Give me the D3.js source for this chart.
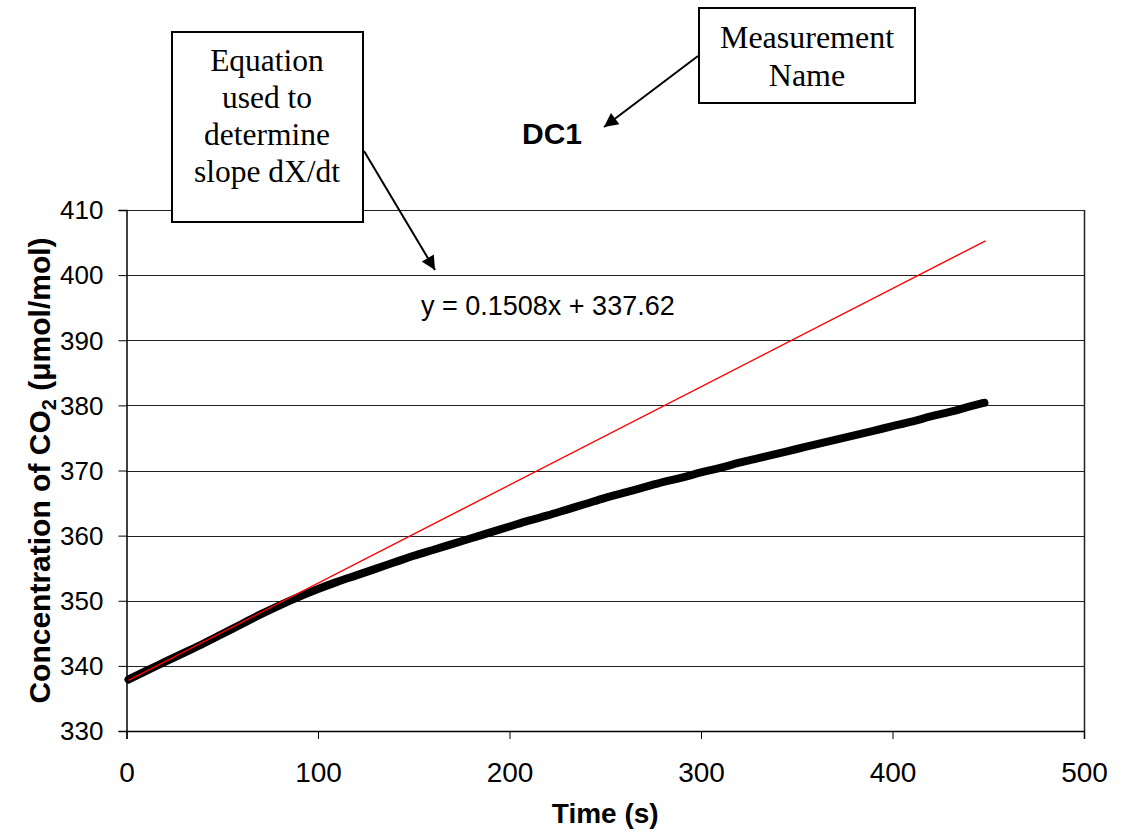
<!DOCTYPE html>
<html>
<head>
<meta charset="utf-8">
<script src="https://cdn.jsdelivr.net/npm/d3@7"></script>
<style>
  html, body { margin: 0; padding: 0; background: #fff; }
  svg { display: block; }
</style>
</head>
<body>
<svg id="chart" width="1124" height="839"></svg>
<script>
// ---- Data ----
const times = [1,10,20,30,40,50,60,70,80,90,100,110,120,130,140,150,160,170,180,190,200,210,220,230,240,250,260,270,280,290,300,310,320,330,340,350,360,370,380,390,400,410,420,430,440,448];
const co2 = [337.9,339.2,340.6,342.0,343.4,344.9,346.4,347.9,349.3,350.6,351.8,352.9,353.9,354.9,355.9,356.9,357.8,358.7,359.6,360.5,361.4,362.3,363.1,364.0,364.9,365.8,366.6,367.4,368.2,368.9,369.7,370.4,371.2,371.9,372.6,373.3,374.0,374.7,375.4,376.1,376.8,377.5,378.3,379.0,379.8,380.4];
const trendSlope = [0.1508];
const trendIntercept = [337.62];
const xTicks = [0,100,200,300,400,500];
const yTicks = [330,340,350,360,370,380,390,400,410];
const titleText = ["DC1"];
const xTitle = ["Time (s)"];
const eqText = ["y = 0.1508x + 337.62"];
const box1Lines = ["Equation","used to","determine","slope dX/dt"];
const box2Lines = ["Measurement","Name"];

// ---- Layout ----
const svg = d3.select("#chart");
const L = 126.5, R = 1084, T = 210, B = 731;
const x = d3.scaleLinear().domain([0,500]).range([L,R]);
const y = d3.scaleLinear().domain([330,410]).range([B,T]);
const SANS = "Liberation Sans, Arial, sans-serif";
const SERIF = "Liberation Serif, Times New Roman, serif";

// gridlines
svg.append("g").selectAll("line").data(yTicks.slice(1)).join("line")
  .attr("x1", L).attr("x2", R)
  .attr("y1", d => Math.round(y(d))+0.5).attr("y2", d => Math.round(y(d))+0.5)
  .attr("stroke", "#222").attr("stroke-width", 1);
// right border
svg.append("line").attr("x1", R+0.5).attr("x2", R+0.5).attr("y1", T).attr("y2", B)
  .attr("stroke", "#222").attr("stroke-width", 1.5);

// axes
const yAxis = svg.append("g").attr("transform", `translate(${L},0)`)
  .call(d3.axisLeft(y).tickValues(yTicks).tickSize(8).tickPadding(15).tickFormat(d3.format("d")));
const xAxis = svg.append("g").attr("transform", `translate(0,${B})`)
  .call(d3.axisBottom(x).tickValues(xTicks).tickSize(8).tickPadding(24).tickFormat(d3.format("d")));
[yAxis, xAxis].forEach(g => {
  g.select(".domain").attr("stroke", "#000").attr("stroke-width", 1.5);
  g.selectAll(".tick line").attr("stroke", "#000").attr("stroke-width", 1);
  g.selectAll("text").attr("font-family", SANS).attr("fill", "#000");
});
yAxis.selectAll("text").attr("font-size", 26).attr("dy", "0.34em");
xAxis.selectAll("text").attr("font-size", 28).attr("dy", "0.68em");

// data line (thick black)
const line = d3.line().x((d,i) => x(times[i])).y(d => y(d)).curve(d3.curveMonotoneX);
svg.append("path").datum(co2).attr("d", line)
  .attr("fill", "none").attr("stroke", "#000").attr("stroke-width", 8)
  .attr("stroke-linejoin", "round").attr("stroke-linecap", "round");

// trend line (red)
const tExt = d3.extent(times);
svg.append("line")
  .attr("x1", x(tExt[0])).attr("y1", y(trendSlope[0]*tExt[0] + trendIntercept[0]))
  .attr("x2", x(tExt[1]+0.6)).attr("y2", y(trendSlope[0]*(tExt[1]+0.6) + trendIntercept[0]))
  .attr("stroke", "#ff0000").attr("stroke-width", 1.4);

// equation text
svg.append("text").attr("x", 421).attr("y", 315).text(eqText[0])
  .attr("font-family", SANS).attr("font-size", 27).attr("fill", "#000");

// title
svg.append("text").attr("x", 552).attr("y", 144).attr("text-anchor", "middle").text(titleText[0])
  .attr("font-family", SANS).attr("font-size", 30).attr("font-weight", "bold");

// x title
svg.append("text").attr("x", (L+R)/2).attr("y", 823).attr("text-anchor", "middle").text(xTitle[0])
  .attr("font-family", SANS).attr("font-size", 28).attr("font-weight", "bold");

// y title
const yt = svg.append("text")
  .attr("transform", `translate(50,${(T+B)/2}) rotate(-90)`)
  .attr("text-anchor", "middle").style("white-space", "pre")
  .attr("font-family", SANS).attr("font-size", 30).attr("font-weight", "bold");
yt.append("tspan").text("Concentration of CO");
yt.append("tspan").text("2").attr("font-size", 20).attr("dy", 6);
yt.append("tspan").text("\u00a0(μmol/mol)").attr("dy", -6);

// arrow marker
const defs = svg.append("defs");
defs.append("marker").attr("id", "arr").attr("viewBox", "0 0 10 10")
  .attr("refX", 10).attr("refY", 5).attr("markerWidth", 8).attr("markerHeight", 7)
  .attr("markerUnits", "strokeWidth").attr("orient", "auto")
  .append("path").attr("d", "M0,0 L10,5 L0,10 Z").attr("fill", "#000");

// annotation box 1
svg.append("rect").attr("x", 172).attr("y", 32).attr("width", 191).attr("height", 190)
  .attr("fill", "#fff").attr("stroke", "#000").attr("stroke-width", 2);
svg.append("g").selectAll("text").data(box1Lines).join("text")
  .attr("x", 267).attr("y", (d,i) => 71 + i*37).attr("text-anchor", "middle").text(d => d)
  .attr("font-family", SERIF).attr("font-size", 31.5).attr("fill", "#000");
svg.append("line").attr("x1", 364).attr("y1", 151).attr("x2", 435).attr("y2", 270)
  .attr("stroke", "#000").attr("stroke-width", 2).attr("marker-end", "url(#arr)");

// annotation box 2
svg.append("rect").attr("x", 699).attr("y", 8).attr("width", 216).attr("height", 95)
  .attr("fill", "#fff").attr("stroke", "#000").attr("stroke-width", 2);
svg.append("g").selectAll("text").data(box2Lines).join("text")
  .attr("x", 807).attr("y", (d,i) => 48 + i*38).attr("text-anchor", "middle").text(d => d)
  .attr("font-family", SERIF).attr("font-size", 32).attr("fill", "#000");
svg.append("line").attr("x1", 698).attr("y1", 56).attr("x2", 604).attr("y2", 127)
  .attr("stroke", "#000").attr("stroke-width", 2).attr("marker-end", "url(#arr)");
</script>
</body>
</html>
